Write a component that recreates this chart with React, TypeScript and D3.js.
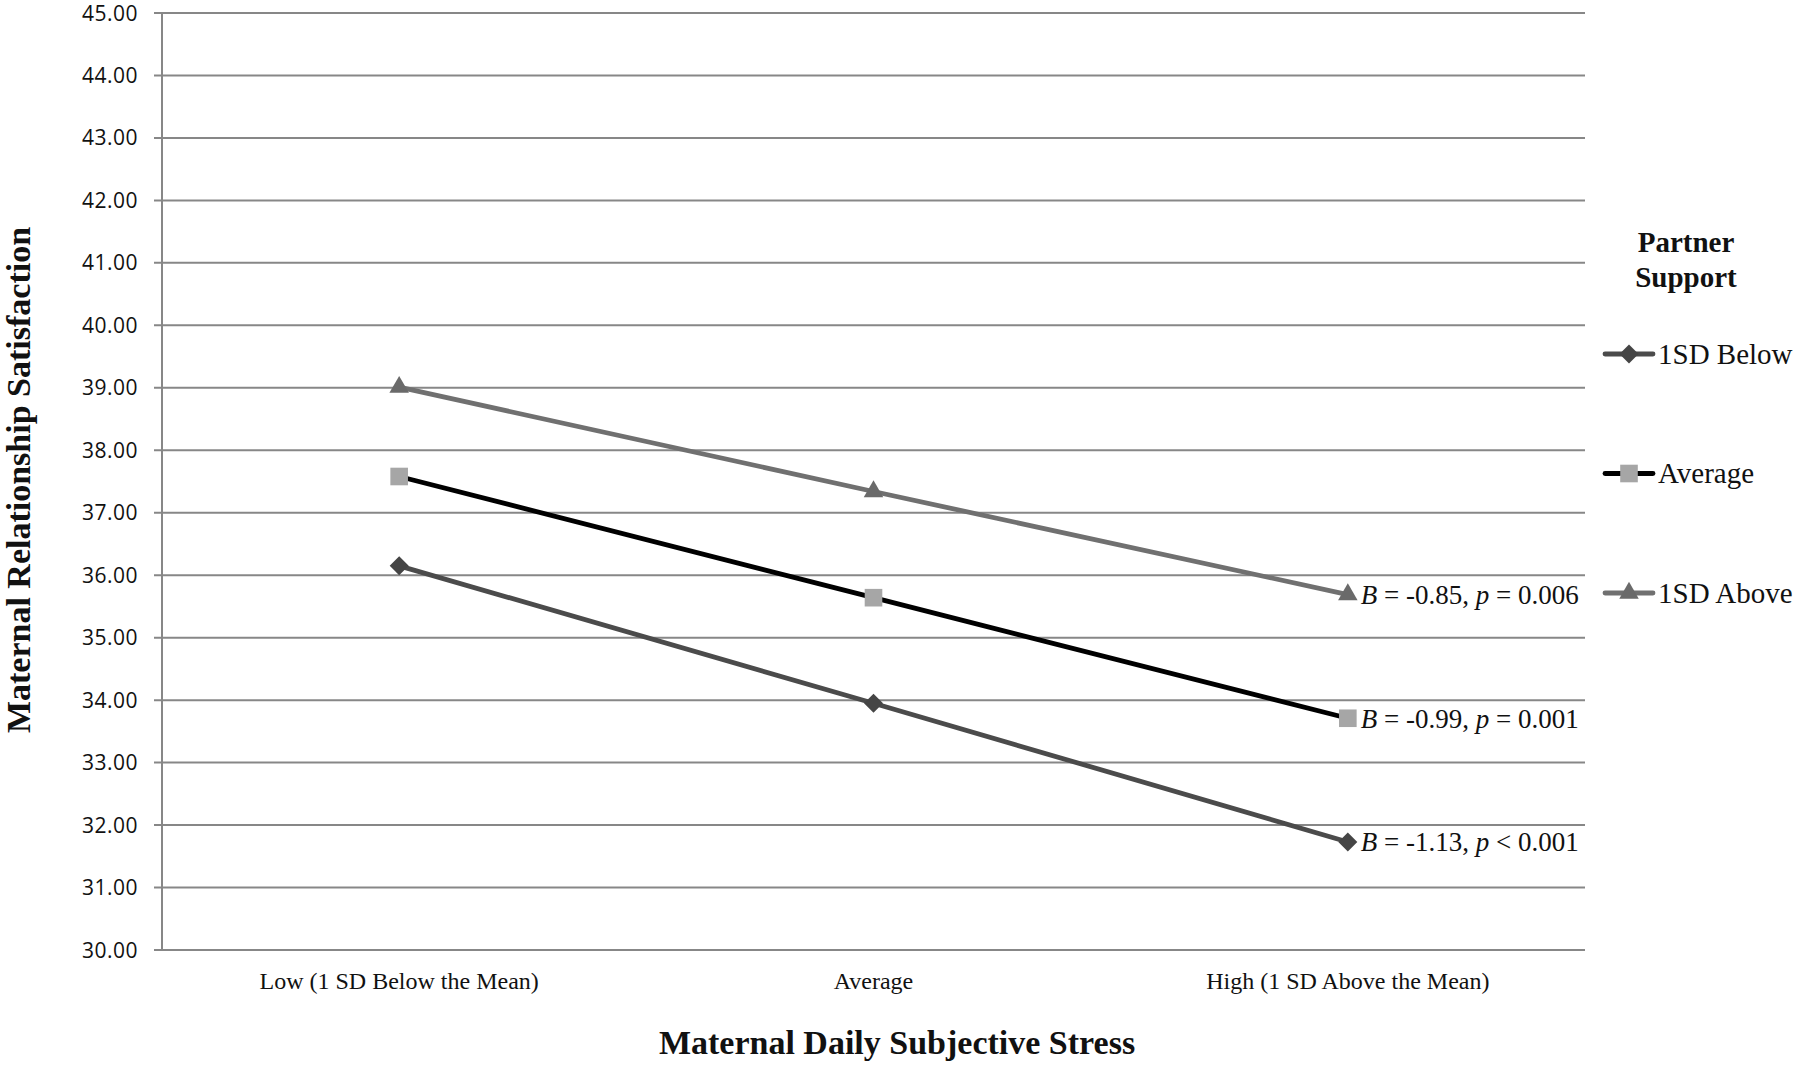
import React, { useEffect } from 'react';
import * as d3 from 'd3';

const categories = ['Low (1 SD Below the Mean)', 'Average', 'High (1 SD Above the Mean)'];
const seriesNames = ['1SD Below', 'Average', '1SD Above'];
const belowValues = [36.15, 33.95, 31.73];
const averageValues = [37.58, 35.64, 33.71];
const aboveValues = [39.01, 37.34, 35.69];
const slopeB = ['-1.13', '-0.99', '-0.85'];
const slopeP = ['< 0.001', '= 0.001', '= 0.006'];
const yTicks = d3.range(30, 46, 1);

const W = 1800;
const H = 1066;

const series = [
    { name: seriesNames[0], values: belowValues, line: '#4b4b4b', fill: '#454545', shape: 'diamond' },
    { name: seriesNames[1], values: averageValues, line: '#000000', fill: '#a6a6a6', shape: 'square' },
    { name: seriesNames[2], values: aboveValues, line: '#707070', fill: '#6a6a6a', shape: 'triangle' },
];

const markerPath = (shape) => {
    if (shape === 'diamond') return d3.symbol().type(d3.symbolDiamond2).size(230)();
    if (shape === 'square') return d3.symbol().type(d3.symbolSquare).size(310)();
    return d3.symbol().type(d3.symbolTriangle).size(165)();
};

export default function App() {
    useEffect(() => {
        document.body.style.margin = '0';
        document.body.style.overflow = 'hidden';
    }, []);

    const x = d3.scalePoint().domain(categories).range([162, 1585]).padding(0.5);
    const y = d3.scaleLinear().domain([30, 45]).range([950, 13]);

    const line = d3
        .line()
        .x((d, i) => x(categories[i]))
        .y((d) => y(d));

    const serif = '"Liberation Serif", "Times New Roman", serif';

    return (
        <svg width={W} height={H} style={{ display: 'block', background: '#fff' }}>
            {/* grid + y ticks */}
            {yTicks.map((t) => (
                <g key={t}>
                    <line x1={154} x2={1585} y1={y(t)} y2={y(t)} stroke="#878787" strokeWidth={2} />
                    <text
                        x={138}
                        y={y(t)}
                        dy="0.36em"
                        textAnchor="end"
                        fontFamily='"Open Sans", sans-serif'
                        fontSize={21}
                        letterSpacing={0.5}
                        fill="#111"
                    >
                        {t.toFixed(2)}
                    </text>
                </g>
            ))}
            <line x1={162} x2={162} y1={y(45)} y2={y(30)} stroke="#878787" strokeWidth={2} />

            {/* x labels */}
            {categories.map((c) => (
                <text key={c} x={x(c)} y={989} textAnchor="middle" fontFamily={serif} fontSize={24} fill="#111">
                    {c}
                </text>
            ))}

            {/* lines */}
            {series.map((s) => (
                <path key={s.name} d={line(s.values)} fill="none" stroke={s.line} strokeWidth={4.8} />
            ))}
            {series.map((s) =>
                s.values.map((v, i) => (
                    <path
                        key={s.name + i}
                        d={markerPath(s.shape)}
                        transform={`translate(${x(categories[i])},${y(v)})`}
                        fill={s.fill}
                    />
                ))
            )}

            {/* slope annotations */}
            {series.map((s, k) => (
                <text
                    key={'ann' + k}
                    x={x(categories[2]) + 13}
                    y={y(s.values[2])}
                    dy="0.35em"
                    fontFamily={serif}
                    fontSize={27}
                    fill="#111"
                >
                    <tspan fontStyle="italic">B</tspan>
                    {` = ${slopeB[k]}, `}
                    <tspan fontStyle="italic">p</tspan>
                    {` ${slopeP[k]}`}
                </text>
            ))}

            {/* axis titles */}
            <text x={897} y={1054} textAnchor="middle" fontFamily={serif} fontWeight="bold" fontSize={34} fill="#111">
                Maternal Daily Subjective Stress
            </text>
            <text
                transform="translate(30,480) rotate(-90)"
                textAnchor="middle"
                fontFamily={serif}
                fontWeight="bold"
                fontSize={34}
                fill="#111"
            >
                Maternal Relationship Satisfaction
            </text>

            {/* legend */}
            <text x={1686} y={252} textAnchor="middle" fontFamily={serif} fontWeight="bold" fontSize={29} fill="#111">
                Partner
            </text>
            <text x={1686} y={287} textAnchor="middle" fontFamily={serif} fontWeight="bold" fontSize={29} fill="#111">
                Support
            </text>
            {series.map((s, k) => {
                const ly = 354 + k * 119.5;
                return (
                    <g key={'lg' + k}>
                        <line x1={1605} x2={1653} y1={ly} y2={ly} stroke={s.line} strokeWidth={4.8} strokeLinecap="round" />
                        <path d={markerPath(s.shape)} transform={`translate(1629,${ly})`} fill={s.fill} />
                        <text x={1658} y={ly} dy="0.34em" fontFamily={serif} fontSize={29} fill="#111">
                            {s.name}
                        </text>
                    </g>
                );
            })}
        </svg>
    );
}
